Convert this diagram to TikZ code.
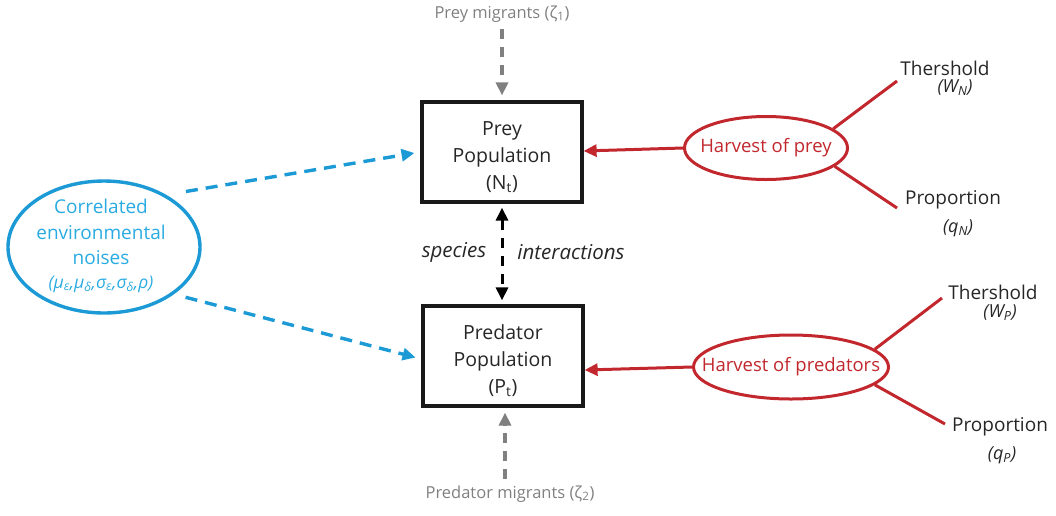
\documentclass[tikz,border=0pt]{standalone}
\usepackage{fontspec}
\setmainfont{Open Sans}
\usetikzlibrary{arrows.meta, shapes.geometric}
\definecolor{harvred}{HTML}{C1272D}
\definecolor{noiseblue}{HTML}{1B9AD6}
\definecolor{noisetext}{HTML}{29ABE2}
\definecolor{migrgray}{HTML}{808080}
\newcommand{\boxstrut}{\rule{0pt}{25pt}}
\tikzset{
  popbox/.style={draw=black!90, line width=3.2pt, minimum width=160pt, minimum height=100pt, align=center, font=\fontsize{19.5}{27}\selectfont, text=black!85},
  harvest/.style={ellipse, draw=harvred, line width=3pt, inner sep=0pt},
  harvtext/.style={text=harvred, font=\fontsize{18.5}{22}\selectfont},
  leaf/.style={align=center, font=\fontsize{19}{22}\selectfont, text=black!85},
  param/.style={align=center, font=\itshape\fontsize{18}{20}\selectfont, text=black!85},
  tip/.style={-{Triangle[length=13pt,width=12pt]}},
}
\begin{document}
\begin{tikzpicture}[x=1pt, y=-1pt]
\useasboundingbox (0,0) rectangle (1056,515);
% populations
\node[popbox] (prey) at (502,152) {\boxstrut Prey\\Population\\(N\textsubscript{t})};
\node[popbox] (pred) at (503,356) {\boxstrut Predator\\Population\\(P\textsubscript{t})};
% migrants
\node[text=migrgray, font=\fontsize{16.5}{20}\selectfont] (preymig) at (502,14) {Prey migrants (ζ\textsubscript{1})};
\node[text=migrgray, font=\fontsize{16.5}{20}\selectfont] (predmig) at (510,494) {Predator migrants (ζ\textsubscript{2})};
\draw[tip, migrgray, line width=3.5pt, dash pattern=on 10pt off 8pt, shorten >=5pt] (preymig.south) ++(0,3) -- (prey.north);
\draw[tip, migrgray, line width=3.5pt, dash pattern=on 10pt off 8pt, shorten >=5pt] (predmig.north) ++(-5,-3) -- ([xshift=2pt]pred.south);
% interactions
\draw[{Triangle[length=13pt,width=12pt]}-{Triangle[length=13pt,width=12pt]}, line width=3pt, dash pattern=on 10pt off 8pt, shorten <=4pt, shorten >=4pt] (prey.south) -- ([xshift=-1pt]pred.north);
\node[font=\itshape\fontsize{20.5}{24}\selectfont, text=black!85] (species) at (454,252) {species};
\node[font=\itshape\fontsize{20.5}{24}\selectfont, text=black!85] (inter) at (571,252) {interactions};
% environmental noise
\node[ellipse, draw=noiseblue, line width=3.4pt, minimum width=192pt, minimum height=132pt, inner sep=0pt] (noise) at (104,247) {};
\node[align=center, text=noisetext, font=\fontsize{19}{25.5}\selectfont] (noisetxt) at (101,246) {Correlated\\environmental\\noises\\[-2pt]{\itshape\fontsize{17.5}{20}\selectfont(μ\textsubscript{ε},μ\textsubscript{δ},σ\textsubscript{ε},σ\textsubscript{δ},ρ)}};
\draw[tip, noiseblue, line width=3.4pt, dash pattern=on 12pt off 8pt, shorten <=20pt, shorten >=6pt] (noise.40) -- (prey.west);
\draw[tip, noiseblue, line width=3.4pt, dash pattern=on 12pt off 8pt, shorten <=12pt, shorten >=6pt] (noise.-34) -- ([yshift=-3pt]pred.west);
% harvest of prey
\node[harvest, minimum width=163pt, minimum height=63pt] (hprey) at (766,148) {};
\node[harvtext] (hpreytxt) at (hprey) {Harvest of prey};
\draw[tip, harvred, line width=3pt] (hprey.west) -- ([yshift=1pt]prey.east);
\node[leaf] (thrN) at (945,68) {Thershold};
\node[param] (wN) at (955,88) {(W\textsubscript{N})};
\node[leaf] (propN) at (953,200) {Proportion};
\node[param] (qN) at (958,228) {(q\textsubscript{N})};
\coordinate (thrNend) at (897,81);
\coordinate (propNend) at (897,208);
\draw[harvred, line width=3pt] (hprey.16) -- (thrNend);
\draw[harvred, line width=3pt] (hprey.-15) -- (propNend);
% harvest of predators
\node[harvest, minimum width=195pt, minimum height=64pt] (hpred) at (791,367) {};
\node[harvtext] (hpredtxt) at (hpred) {Harvest of predators};
\draw[tip, harvred, line width=3pt] (hpred.west) -- ([yshift=-14pt]pred.east);
\node[leaf] (thrP) at (993,292) {Thershold};
\node[param] (wP) at (1000,313) {(W\textsubscript{P})};
\node[leaf] (propP) at (1000,427) {Proportion};
\node[param] (qP) at (1002,455) {(q\textsubscript{P})};
\coordinate (thrPend) at (942,298);
\coordinate (propPend) at (945,424);
\draw[harvred, line width=3pt] (hpred.12) -- (thrPend);
\draw[harvred, line width=3pt] (hpred.-12) -- (propPend);
\end{tikzpicture}
\end{document}
